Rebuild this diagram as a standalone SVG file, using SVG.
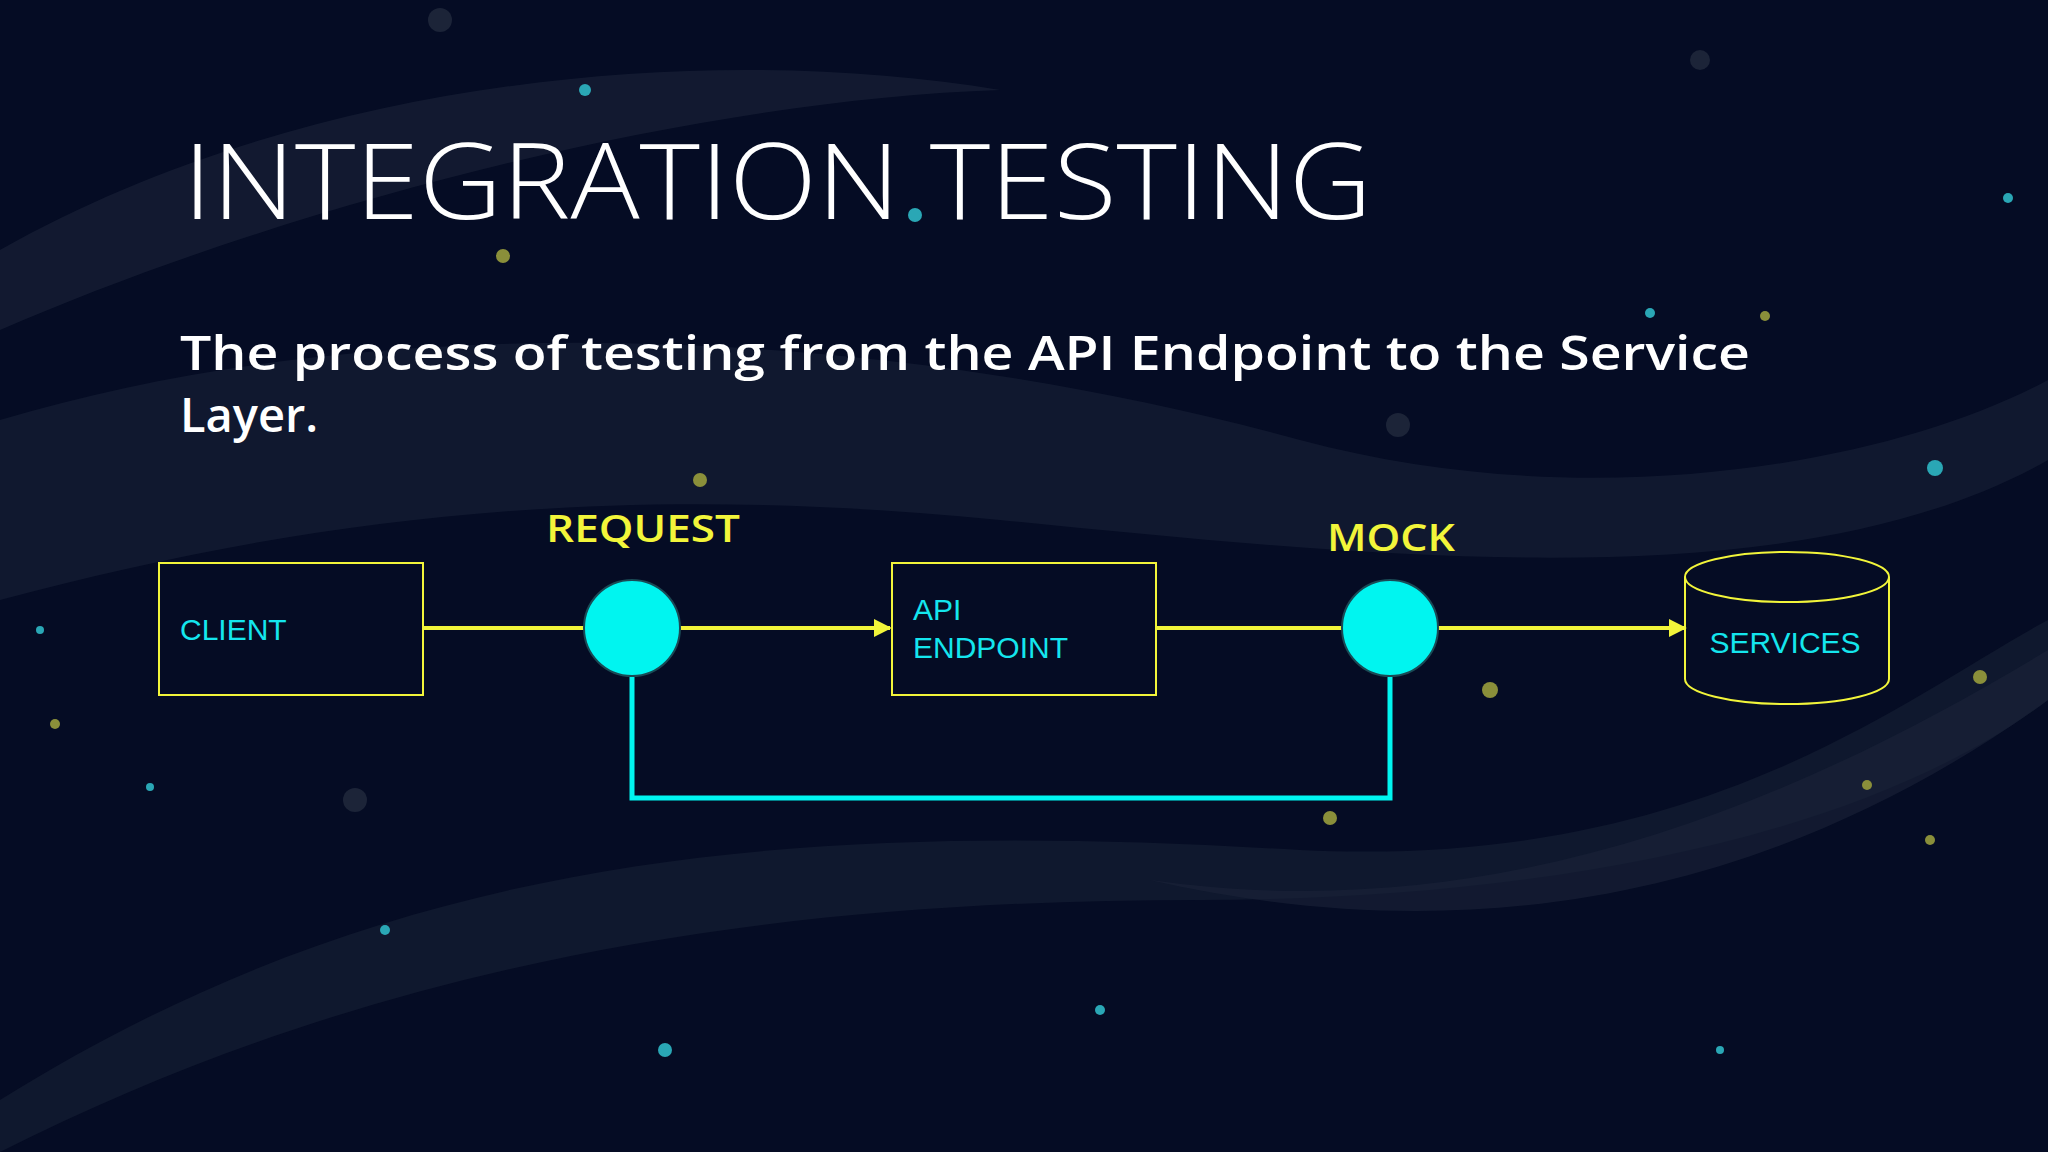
<svg xmlns="http://www.w3.org/2000/svg" width="2048" height="1152" viewBox="0 0 2048 1152">
<defs>
<style>
.y{stroke:#f2f53a;stroke-width:4;fill:none}
.c{stroke:#00f5f0;stroke-width:5;fill:none}
.box{fill:none;stroke:#f2f53a;stroke-width:2}
.nt{font-family:"Liberation Sans",Arial,sans-serif;font-size:30px;fill:#14e6ee}
.lb{font-family:"Open Sans","Liberation Sans",sans-serif;font-weight:600;font-size:38px;fill:#f2f53a;text-anchor:middle}
.dot{fill:#00f5f0;stroke:#1a4a55;stroke-width:2}
.s1{fill:#2aa7b5}.s2{fill:#8a8f3a}.s3{fill:#1c2438}
</style>
<marker id="ah" viewBox="0 0 10 10" refX="9" refY="5" markerWidth="4.5" markerHeight="4.5" orient="auto"><path d="M0,0L10,5L0,10z" fill="#f2f53a"/></marker>
</defs>
<rect width="2048" height="1152" fill="#050c24"/>
<path d="M0,250 C300,80 700,40 1000,90 C700,100 300,200 0,330z" fill="#1a2338" opacity="0.6"/>
<path d="M0,420 C400,300 900,330 1300,440 C1600,520 1900,460 2048,380 L2048,460 C1800,600 1400,560 1000,520 C600,480 300,520 0,600z" fill="#1a2338" opacity="0.55"/>
<path d="M0,1100 C400,850 800,820 1300,850 C1700,870 1900,700 2048,620 L2048,700 C1850,850 1500,900 1200,900 C800,900 400,950 0,1152z" fill="#1a2338" opacity="0.5"/>
<path d="M1150,880 C1500,930 1800,800 2048,650 L2048,700 C1800,880 1500,960 1150,880z" fill="#1a2338" opacity="0.6"/>
<g>
<circle cx="585" cy="90" r="6" class="s1"/><circle cx="503" cy="256" r="7" class="s2"/><circle cx="700" cy="480" r="7" class="s2"/>
<circle cx="915" cy="215" r="7" class="s1"/><circle cx="1935" cy="468" r="8" class="s1"/><circle cx="1490" cy="690" r="8" class="s2"/>
<circle cx="1980" cy="677" r="7" class="s2"/><circle cx="1330" cy="818" r="7" class="s2"/><circle cx="665" cy="1050" r="7" class="s1"/>
<circle cx="385" cy="930" r="5" class="s1"/><circle cx="1720" cy="1050" r="4" class="s1"/><circle cx="1867" cy="785" r="5" class="s2"/>
<circle cx="1930" cy="840" r="5" class="s2"/><circle cx="355" cy="800" r="12" class="s3"/><circle cx="1398" cy="425" r="12" class="s3"/>
<circle cx="1700" cy="60" r="10" class="s3"/><circle cx="440" cy="20" r="12" class="s3"/><circle cx="55" cy="724" r="5" class="s2"/>
<circle cx="2008" cy="198" r="5" class="s1"/><circle cx="1650" cy="313" r="5" class="s1"/><circle cx="1765" cy="316" r="5" class="s2"/>
<circle cx="40" cy="630" r="4" class="s1"/><circle cx="150" cy="787" r="4" class="s1"/><circle cx="1100" cy="1010" r="5" class="s1"/>
</g>
<text x="183" y="219" font-family="Open Sans,Liberation Sans,sans-serif" font-weight="300" font-size="106" fill="#ffffff" textLength="1189" lengthAdjust="spacingAndGlyphs">INTEGRATION TESTING</text>
<text font-family="Open Sans,Liberation Sans,sans-serif" font-weight="600" font-size="47" fill="#ffffff"><tspan x="180" y="370" textLength="1570" lengthAdjust="spacingAndGlyphs">The process of testing from the API Endpoint to the Service</tspan><tspan x="180" y="432">Layer.</tspan></text>
<g id="connectors">
<line class="y" x1="423" y1="628" x2="584" y2="628"/>
<line class="y" x1="680" y1="628" x2="890" y2="628" marker-end="url(#ah)"/>
<line class="y" x1="1156" y1="628" x2="1342" y2="628"/>
<line class="y" x1="1438" y1="628" x2="1685" y2="628" marker-end="url(#ah)"/>
<path class="c" d="M632,676 V798 H1390 V676"/>
</g>
<g id="client"><rect class="box" x="159" y="563" width="264" height="132"/><text class="nt" x="180" y="640">CLIENT</text></g>
<g id="request"><circle class="dot" cx="632" cy="628" r="48"/><text class="lb" x="643" y="542" textLength="194" lengthAdjust="spacingAndGlyphs">REQUEST</text></g>
<g id="api"><rect class="box" x="892" y="563" width="264" height="132"/><text class="nt" x="913" y="620">API</text><text class="nt" x="913" y="658">ENDPOINT</text></g>
<g id="mock"><circle class="dot" cx="1390" cy="628" r="48"/><text class="lb" x="1391" y="551" textLength="128" lengthAdjust="spacingAndGlyphs">MOCK</text></g>
<g id="services"><path class="box" d="M1685,577 V679 A102,25 0 0 0 1889,679 V577"/><ellipse class="box" cx="1787" cy="577" rx="102" ry="25"/><text class="nt" x="1785" y="653" text-anchor="middle">SERVICES</text></g>
</svg>
